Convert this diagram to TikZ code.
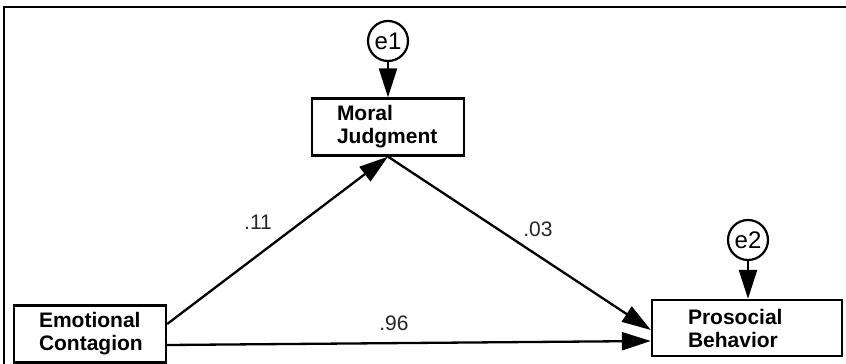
\documentclass[tikz,border=0pt]{standalone}
\usepackage{fontspec}
\setmainfont{Liberation Sans}
\usetikzlibrary{arrows.meta}
\begin{document}
\begin{tikzpicture}[x=1pt,y=-1pt,
  var/.style={draw, line width=2.3pt, inner ysep=0pt, minimum height=57pt, align=left, font=\fontsize{21}{23}\selectfont\bfseries},
  err/.style={circle, draw, line width=2.2pt, minimum size=40pt, inner sep=0pt, font=\fontsize{24}{26}\selectfont},
  link/.style={line width=2.3pt, -{Triangle[length=29pt,width=18pt]}},
  coef/.style={font=\fontsize{21}{23}\selectfont, text=black!85}]
\useasboundingbox (0,0) rectangle (846,364);
\fill[white] (0,0) rectangle (846,364);
% frame
\draw[line width=2.2pt] (4,364) -- (4,7) -- (846,7);
% variables
\node[var, inner xsep=25pt, text width=102pt] (MJ) at (388,127) {Moral\\Judgment};
\node[var, inner xsep=25pt, text width=102pt] (EC) at (90,334) {Emotional\\Contagion};
\node[var, inner xsep=36pt, text width=118pt, minimum height=56pt] (PB) at (747,328) {Prosocial\\Behavior};
% errors
\node[err] (e1) at (388,41) {e1};
\node[err] (e2) at (748,240) {e2};
% paths
\draw[link] (e1.south) -- (MJ.north);
\draw[link] (e2.south) -- (e2 |- PB.north);
\draw[link] ([yshift=10pt]EC.east) -- (MJ.south);
\draw[link] (MJ.south) -- ([yshift=-2pt]PB.west);
\draw[link] ([yshift=-11pt]EC.east) -- ([yshift=-13pt]PB.west);
% coefficients
\node[coef] (c11) at (258,222) {.11};
\node[coef] (c03) at (538,229) {.03};
\node[coef] (c96) at (394,323) {.96};
\end{tikzpicture}
\end{document}
